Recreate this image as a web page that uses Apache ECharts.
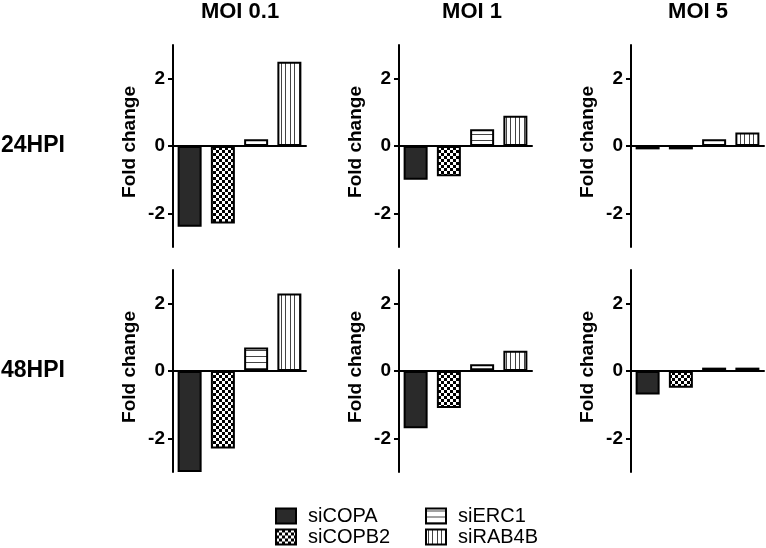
<!DOCTYPE html>
<html>
<head>
<meta charset="utf-8">
<script src="https://cdn.jsdelivr.net/npm/echarts@6/dist/echarts.min.js"></script>
<style>
html,body{margin:0;padding:0;background:#fff;}
#main{width:766px;height:548px;}
</style>
</head>
<body>
<div id="main"></div>
<script>
// ---- data ----
const rowLabels = ['24HPI', '48HPI'];
const colLabels = ['MOI 0.1', 'MOI 1', 'MOI 5'];
const seriesNames = ['siCOPA', 'siCOPB2', 'siERC1', 'siRAB4B'];
const yTickValues = [-2, 0, 2];
const yMin = -3, yMax = 3;
const hpi24_moi01 = [-2.4, -2.3, 0.2, 2.5];
const hpi24_moi1  = [-1.0, -0.9, 0.5, 0.9];
const hpi24_moi5  = [-0.1, -0.1, 0.2, 0.4];
const hpi48_moi01 = [-3.0, -2.3, 0.7, 2.3];
const hpi48_moi1  = [-1.7, -1.1, 0.2, 0.6];
const hpi48_moi5  = [-0.7, -0.5, 0.1, 0.1];
const panelValues = [hpi24_moi01, hpi24_moi1, hpi24_moi5, hpi48_moi01, hpi48_moi1, hpi48_moi5];

// ---- patterns ----
function makeCanvas(w, h, draw) {
  const c = document.createElement('canvas');
  c.width = w; c.height = h;
  const ctx = c.getContext('2d');
  ctx.fillStyle = '#fff'; ctx.fillRect(0, 0, w, h);
  draw(ctx);
  return c;
}
const checker = makeCanvas(6, 6, ctx => {
  ctx.fillStyle = '#000';
  ctx.fillRect(0, 0, 3, 3); ctx.fillRect(3, 3, 3, 3);
});
const hLines = makeCanvas(6, 6, ctx => {
  ctx.fillStyle = '#444';
  ctx.fillRect(0, 2, 6, 1);
});
const vLines = makeCanvas(9, 9, ctx => {
  ctx.fillStyle = '#444';
  ctx.fillRect(2, 0, 1, 9);
  ctx.fillRect(6, 0, 1, 9);
});
const fills = [
  '#2a2a2a',
  { image: checker, repeat: 'repeat' },
  { image: hLines, repeat: 'repeat' },
  { image: vLines, repeat: 'repeat' }
];

// ---- layout ----
const colLeft = [173, 399, 631];
const rowTop = [45, 270];
const gridW = 133, gridH = 202;
const FONT = 'Liberation Sans, Arial, sans-serif';

const grids = [], xAxes = [], yAxes = [], series = [];
for (let r = 0; r < 2; r++) {
  for (let c = 0; c < 3; c++) {
    const gi = r * 3 + c;
    grids.push({ left: colLeft[c], top: rowTop[r], width: gridW, height: gridH, containLabel: false });
    xAxes.push({
      type: 'category', gridIndex: gi, data: seriesNames,
      axisLine: { show: true, onZero: true, lineStyle: { color: '#000', width: 2 } },
      axisTick: { show: false }, axisLabel: { show: false }, splitLine: { show: false }
    });
    yAxes.push({
      type: 'value', gridIndex: gi, min: yMin, max: yMax, interval: 1,
      axisLine: { show: true, lineStyle: { color: '#000', width: 2 } },
      axisTick: { show: true, length: 5, customValues: yTickValues, lineStyle: { color: '#000', width: 2 } },
      axisLabel: { customValues: yTickValues, fontSize: 19, fontWeight: 'bold', color: '#000', margin: 8, fontFamily: FONT },
      splitLine: { show: false },
      name: 'Fold change', nameLocation: 'middle', nameGap: 34, nameRotate: 90,
      nameTextStyle: { fontSize: 19, fontWeight: 'bold', color: '#000', fontFamily: FONT, padding: [0, 0, 0, 8] }
    });
    const vals = panelValues[gi];
    seriesNames.forEach((name, si) => {
      const data = seriesNames.map((_, k) => (k === si ? vals[k] : '-'));
      series.push({
        type: 'bar', name: name, xAxisIndex: gi, yAxisIndex: gi,
        data: data, barWidth: 24, barGap: '-100%',
        itemStyle: { color: fills[si], borderColor: '#000', borderWidth: 2 },
        emphasis: { disabled: true }, animation: false, silent: true
      });
    });
  }
}

const graphics = [];
const colCenters = [240, 472, 698];
colLabels.forEach((t, i) => graphics.push({
  type: 'text', x: colCenters[i], y: 12,
  style: { text: t, font: 'bold 22px ' + FONT, fill: '#000', textAlign: 'center', textVerticalAlign: 'middle' }
}));
const rowCenters = [146, 371];
rowLabels.forEach((t, i) => graphics.push({
  type: 'text', x: 1, y: rowCenters[i],
  style: { text: t, font: 'bold 23px ' + FONT, fill: '#000', textAlign: 'left', textVerticalAlign: 'middle' }
}));

const legendLefts = [275, 275, 425, 425];
const legendTops = [506, 527, 506, 527];
const legends = seriesNames.map((n, i) => ({
  left: legendLefts[i], top: legendTops[i], padding: 0,
  itemWidth: 20, itemHeight: 15, icon: 'rect', selectedMode: false,
  data: [n],
  textStyle: { fontSize: 20, color: '#000', fontFamily: FONT, padding: [0, 0, 0, 7] }
}));

const chart = echarts.init(document.getElementById('main'), null, { renderer: 'canvas' });
chart.setOption({
  animation: false,
  backgroundColor: '#fff',
  grid: grids, xAxis: xAxes, yAxis: yAxes, series: series,
  legend: legends,
  graphic: graphics
});
</script>
</body>
</html>
